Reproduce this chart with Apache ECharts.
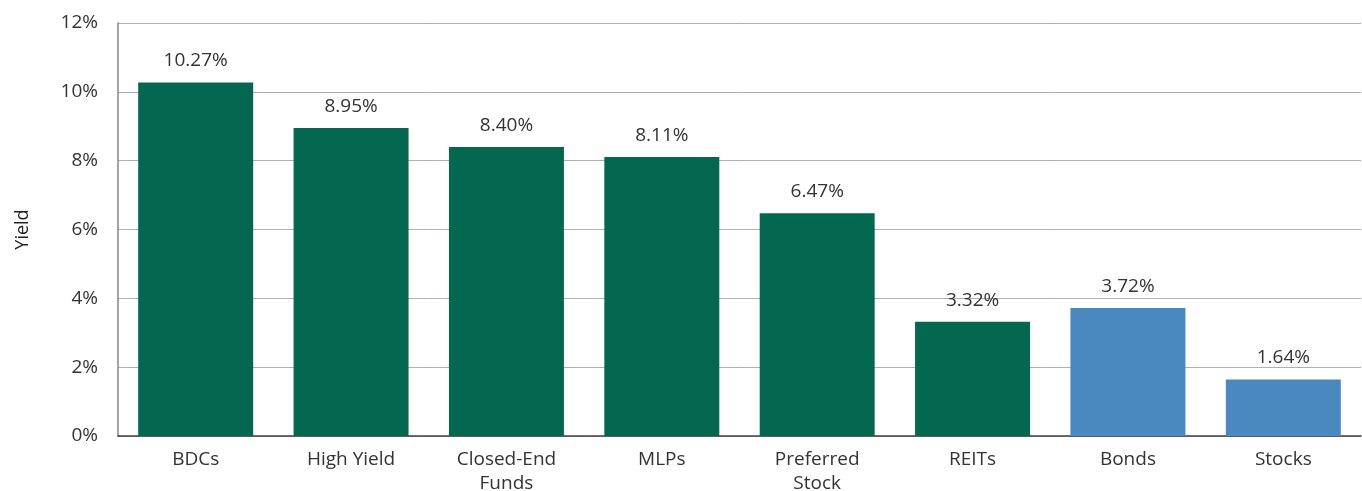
<!DOCTYPE html>
<html>
<head>
<meta charset="utf-8">
<script src="https://cdn.jsdelivr.net/npm/echarts@6/dist/echarts.min.js"></script>
<style>
	html, body { margin: 0; padding: 0; background: #fff; }
	#chart { width: 1362px; height: 491px; }
</style>
</head>
<body>
<div id="chart"></div>
<script>
var categories = ['BDCs', 'High Yield', 'Closed-End\nFunds', 'MLPs', 'Preferred\nStock', 'REITs', 'Bonds', 'Stocks'];
var yields = [10.27, 8.95, 8.40, 8.11, 6.47, 3.32, 3.72, 1.64];
var barColors = ['#03684f', '#03684f', '#03684f', '#03684f', '#03684f', '#03684f', '#4a89bf', '#4a89bf'];
var yTicks = [0, 2, 4, 6, 8, 10, 12];

var FONT = '"Open Sans", "Noto Sans", sans-serif';

var seriesData = [];
for (var i = 0; i < yields.length; i++) {
	seriesData.push({ value: yields[i], itemStyle: { color: barColors[i] } });
}

var chart = echarts.init(document.getElementById('chart'));
chart.setOption({
	animation: false,
	grid: { left: 118, right: 1, top: 23, bottom: 55, outerBoundsMode: 'none', containLabel: false },
	xAxis: {
		type: 'category',
		data: categories,
		axisTick: { show: false },
		axisLine: { lineStyle: { color: '#404040', width: 1.5 } },
		axisLabel: {
			color: '#333',
			fontSize: 19,
			fontFamily: FONT,
			lineHeight: 24,
			margin: 12
		}
	},
	yAxis: {
		type: 'value',
		min: yTicks[0],
		max: yTicks[yTicks.length - 1],
		interval: 2,
		name: 'Yield',
		nameLocation: 'middle',
		nameGap: 86,
		nameRotate: 90,
		nameTextStyle: { color: '#222', fontSize: 18, fontFamily: FONT },
		axisLine: { show: true, lineStyle: { color: '#888', width: 1.5 } },
		axisTick: { show: false },
		splitLine: { lineStyle: { color: '#b0b0b0', width: 1 } },
		axisLabel: {
			color: '#333',
			fontSize: 19,
			fontFamily: FONT,
			margin: 20,
			formatter: '{value}%'
		}
	},
	series: [{
		type: 'bar',
		data: seriesData,
		barWidth: '74%',
		label: {
			show: true,
			position: 'top',
			distance: 12,
			color: '#333',
			fontSize: 19,
			fontFamily: FONT,
			formatter: function (p) { return p.value.toFixed(2) + '%'; }
		}
	}]
});
</script>
</body>
</html>
